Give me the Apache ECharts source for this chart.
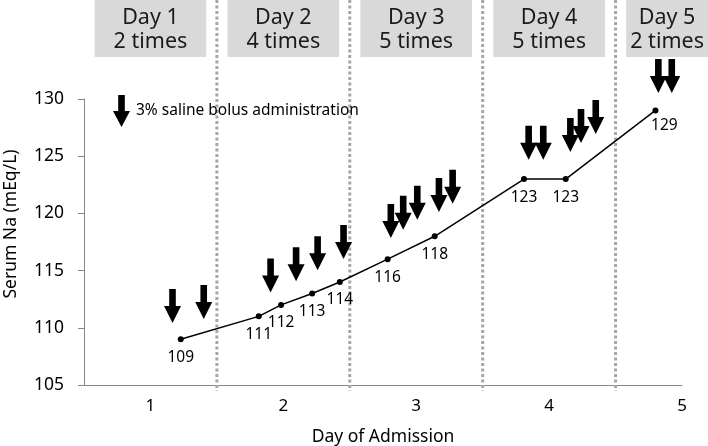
<!DOCTYPE html>
<html>
<head>
<meta charset="utf-8">
<script src="https://cdn.jsdelivr.net/npm/echarts@6/dist/echarts.min.js"></script>
<style>html,body{margin:0;padding:0;background:#fff}#c{width:708px;height:446px}</style>
</head>
<body>
<div id="c"></div>
<script>
// ---- data ----
var naDays   = [1.228, 1.815, 1.983, 2.217, 2.425, 2.785, 3.139, 3.811, 4.125, 4.800];
var naValues = [109, 111, 112, 113, 114, 116, 118, 123, 123, 129];
var bolusDays = [1.166, 1.401, 1.904, 2.096, 2.258, 2.453, 2.809, 2.902, 3.008, 3.171, 3.274,
                 3.846, 3.956, 4.160, 4.240, 4.351, 4.822, 4.923];
var bolusTip  = [110.42, 110.77, 113.09, 114.06, 115.02, 116.01, 117.85, 118.58, 119.45, 120.12, 120.85,
                 124.69, 124.69, 125.37, 126.15, 126.94, 130.52, 130.52];
var headerDays   = [1, 2, 3, 4, 5];
var headerTitles = ['Day 1', 'Day 2', 'Day 3', 'Day 4', 'Day 5'];
var headerCounts = ['2 times', '4 times', '5 times', '5 times', '2 times'];
var dayBoundaries = [1.5, 2.5, 3.5, 4.5];
var xTickLabels = ['1', '2', '3', '4', '5'];
var yTicks = [105, 110, 115, 120, 125, 130];
var legendName = '3% saline bolus administration';

var FONT = '"Noto Sans", "DejaVu Sans", sans-serif';
var ARROW = 'path://M5.5,0 L12.5,0 L12.5,17 L18,17 L9,34 L0,17 L5.5,17 Z';

var chart = echarts.init(document.getElementById('c'), null, {renderer: 'canvas'});

var lineData = naDays.map(function (d, i) { return [d, naValues[i]]; });
var bolusData = bolusDays.map(function (d, i) { return [d, bolusTip[i]]; });
var headerData = headerDays.map(function (d, i) { return [d, i]; });
var boundaryData = dayBoundaries.map(function (d) { return [d, 105]; });

var option = {
  animation: false,
  textStyle: {fontFamily: FONT},
  grid: {left: 84, right: 26, top: 99, bottom: 61, containLabel: false, outerBoundsMode: 'none'},
  legend: {
    data: [{name: legendName, icon: ARROW, itemStyle: {color: '#000', opacity: 1}}],
    left: 108, top: 90,
    itemWidth: 17, itemHeight: 34, itemGap: 5,
    textStyle: {fontSize: 15.5, color: '#000', fontFamily: FONT, padding: [0, 0, 2, 1]},
    selectedMode: false
  },
  xAxis: {
    type: 'value', min: 0.5, max: 5, interval: 0.5,
    axisLine: {lineStyle: {color: '#868686', width: 1}},
    axisTick: {show: false},
    splitLine: {show: false},
    axisLabel: {
      fontSize: 17, color: '#000', margin: 13, fontFamily: FONT,
      formatter: function (v) {
        var idx = xTickLabels.indexOf(String(v));
        return idx >= 0 ? xTickLabels[idx] : '';
      }
    },
    name: 'Day of Admission', nameLocation: 'middle', nameGap: 43,
    nameTextStyle: {fontSize: 17.5, color: '#000', fontFamily: FONT}
  },
  yAxis: {
    type: 'value', min: yTicks[0], max: yTicks[yTicks.length - 1], interval: 5,
    axisLine: {show: true, lineStyle: {color: '#868686', width: 1}},
    axisTick: {show: true, length: 6, lineStyle: {color: '#868686'}},
    splitLine: {show: false},
    axisLabel: {fontSize: 17.5, color: '#000', margin: 20, fontFamily: FONT},
    name: 'Serum Na (mEq/L)', nameLocation: 'middle', nameGap: 64,
    nameTextStyle: {fontSize: 17.5, color: '#000', fontFamily: FONT, padding: [0, 0, 0, 36]}
  },
  series: [
    {
      type: 'custom', name: 'boundaries', clip: false, silent: true, z: 1,
      data: boundaryData,
      renderItem: function (params, api) {
        var x = api.coord([api.value(0), 105])[0];
        return {
          type: 'line',
          shape: {x1: x, y1: 0, x2: x, y2: 391},
          style: {stroke: '#a6a6a6', lineWidth: 3, lineDash: [3, 2.5]}
        };
      }
    },
    {
      type: 'custom', name: 'headers', clip: false, silent: true, z: 2,
      data: headerData,
      renderItem: function (params, api) {
        var d = api.value(0), i = api.value(1);
        var x1 = api.coord([d - 0.42, 105])[0];
        var x2 = Math.min(api.coord([d + 0.42, 105])[0], api.getWidth());
        var cx = (x1 + x2) / 2;
        return {
          type: 'group',
          children: [
            {type: 'rect', shape: {x: x1, y: 0, width: x2 - x1, height: 57}, style: {fill: '#d9d9d9'}},
            {type: 'text', style: {x: cx, y: 18, text: headerTitles[i], fill: '#1a1a1a',
              font: '21.5px ' + FONT, textAlign: 'center', textVerticalAlign: 'middle'}},
            {type: 'text', style: {x: cx, y: 42, text: headerCounts[i], fill: '#1a1a1a',
              font: '21.5px ' + FONT, textAlign: 'center', textVerticalAlign: 'middle'}}
          ]
        };
      }
    },
    {
      type: 'line', name: 'Serum Na', data: lineData, z: 3,
      symbol: 'circle', symbolSize: 6,
      itemStyle: {color: '#000'},
      lineStyle: {color: '#000', width: 1.5},
      label: {
        show: true, position: 'bottom', distance: 7, fontSize: 15.5, color: '#000', fontFamily: FONT,
        formatter: function (p) { return p.value[1]; }
      },
      labelLayout: function (p) {
        if (p.dataIndex === naValues.length - 1) { return {dx: 9, dy: -3}; }
        return {};
      }
    },
    {
      type: 'scatter', name: legendName, data: bolusData, z: 4, clip: false,
      symbol: ARROW, symbolSize: [17, 34], symbolOffset: [0, '-50%'],
      itemStyle: {color: '#000', opacity: 1}
    }
  ]
};
chart.setOption(option);
</script>
</body>
</html>
